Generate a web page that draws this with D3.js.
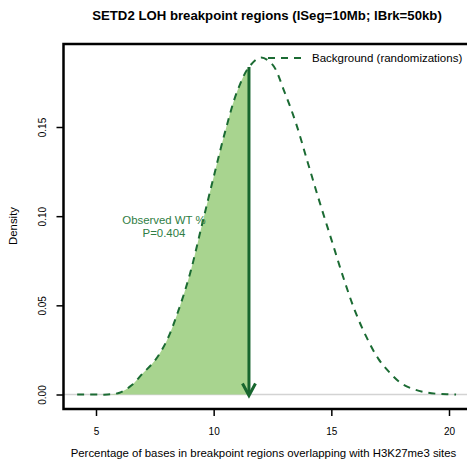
<!DOCTYPE html>
<html><head><meta charset="utf-8">
<script src="https://cdn.jsdelivr.net/npm/d3@7"></script>
<style>body{margin:0;background:#fff}svg{display:block;font-family:"Liberation Sans",Arial,Helvetica,sans-serif}</style>
</head><body><svg id="c" width="467" height="465"></svg>
<script>
const titleText = "SETD2 LOH breakpoint regions (lSeg=10Mb; lBrk=50kb)";
const xLabel = "Percentage of bases in breakpoint regions overlapping with H3K27me3 sites";
const yLabel = "Density";
const xTicks = [5, 10, 15, 20];
const yTicks = [0, 0.05, 0.10, 0.15];
const bgX = [4.2, 5, 5.5, 6, 6.5, 7, 7.5, 8, 8.5, 9, 9.5, 10, 10.5, 11, 11.5, 12, 12.5, 13, 13.5, 14, 14.5, 15, 15.5, 16, 16.5, 17, 17.5, 18, 18.5, 19, 19.5, 20, 20.3];
const bgDensity = [0, 0, 0, 0.001, 0.005, 0.012, 0.019, 0.03, 0.047, 0.068, 0.095, 0.122, 0.148, 0.17, 0.1836, 0.189, 0.185, 0.17, 0.152, 0.13, 0.108, 0.087, 0.066, 0.047, 0.032, 0.02, 0.012, 0.006, 0.003, 0.0012, 0.0004, 0.0001, 0];
const observed = 11.5;
const observedDensity = 0.1836;
const legendLabel = "Background (randomizations)";
const obsLabel = ["Observed WT %", "P=0.404"];

const svg = d3.select("#c");
const x = d3.scaleLinear().domain([5, 20]).range([96, 449]);
const y = d3.scaleLinear().domain([0, 0.15]).range([394.5, 127]);
const box = {l: 63.5, t: 44, b: 409, r: 490};
const lineCol = "#1b6b33", fillCol = "#a8d48f", arrowCol = "#17662e", textCol = "#2f7d44";
const data = bgX.map((v, i) => ({x: v, d: bgDensity[i]}));

svg.append("clipPath").attr("id", "obs").append("rect")
  .attr("x", 0).attr("y", 0).attr("width", x(observed)).attr("height", 465);

svg.append("line").attr("x1", box.l).attr("x2", 467).attr("y1", y(0)).attr("y2", y(0))
  .attr("stroke", "#d3d3d3").attr("stroke-width", 1.5);

const area = d3.area().x(p => x(p.x)).y0(y(0)).y1(p => y(p.d)).curve(d3.curveCatmullRom);
svg.append("path").datum(data).attr("d", area).attr("fill", fillCol).attr("clip-path", "url(#obs)");

const line = d3.line().x(p => x(p.x)).y(p => y(p.d)).curve(d3.curveCatmullRom);
svg.append("path").datum(data).attr("d", line).attr("fill", "none")
  .attr("stroke", lineCol).attr("stroke-width", 2).attr("stroke-dasharray", "7,6");

const ax = x(observed), ay0 = y(observedDensity), ay1 = y(0) + 1;
svg.append("line").attr("x1", ax).attr("x2", ax).attr("y1", ay0).attr("y2", ay1 - 1)
  .attr("stroke", arrowCol).attr("stroke-width", 3);
svg.append("path").attr("d", `M${ax - 6.5},${ay1 - 12}L${ax},${ay1}L${ax + 6.5},${ay1 - 12}`)
  .attr("fill", "none").attr("stroke", arrowCol).attr("stroke-width", 3).attr("stroke-linejoin", "miter");

svg.append("path").attr("d", `M${box.r},${box.t}H${box.l}V${box.b}H${box.r}`)
  .attr("fill", "none").attr("stroke", "#000").attr("stroke-width", 2.5);

const gx = svg.append("g").attr("transform", `translate(0,${box.b})`)
  .call(d3.axisBottom(x).tickValues(xTicks).tickSize(7).tickPadding(12).tickFormat(d3.format("d")));
gx.select(".domain").remove();
gx.selectAll("line").attr("stroke-width", 1.5);
gx.selectAll("text").attr("font-size", 10).attr("font-family", "Liberation Sans, Arial");

const gy = svg.append("g").attr("transform", `translate(${box.l},0)`)
  .call(d3.axisLeft(y).tickValues(yTicks).tickSize(7).tickFormat(d3.format(".2f")));
gy.select(".domain").remove();
gy.selectAll("line").attr("stroke-width", 1.5);
gy.selectAll("text").attr("font-size", 10).attr("font-family", "Liberation Sans, Arial")
  .attr("x", null).attr("dy", null)
  .attr("text-anchor", "middle")
  .attr("transform", "translate(-18,0) rotate(-90)");

svg.append("text").attr("x", 267).attr("y", 20).attr("text-anchor", "middle")
  .attr("font-weight", "bold").attr("font-size", 13.2).text(titleText);
svg.append("text").attr("x", 263.5).attr("y", 457).attr("text-anchor", "middle")
  .attr("font-size", 11.4).text(xLabel);
svg.append("text").attr("transform", "translate(17,226) rotate(-90)").attr("text-anchor", "middle")
  .attr("font-size", 11.4).text(yLabel);

svg.append("line").attr("x1", 267).attr("x2", 303).attr("y1", 58).attr("y2", 58)
  .attr("stroke", lineCol).attr("stroke-width", 2).attr("stroke-dasharray", "7,6").attr("stroke-dashoffset", -1);
svg.append("text").attr("x", 312).attr("y", 62).attr("font-size", 11.5).text(legendLabel);

svg.selectAll("text.obs").data(obsLabel).enter().append("text")
  .attr("x", 164).attr("y", (d, i) => 224 + i * 13).attr("text-anchor", "middle")
  .attr("font-size", 11.4).attr("fill", textCol).text(d => d);
</script></body></html>
